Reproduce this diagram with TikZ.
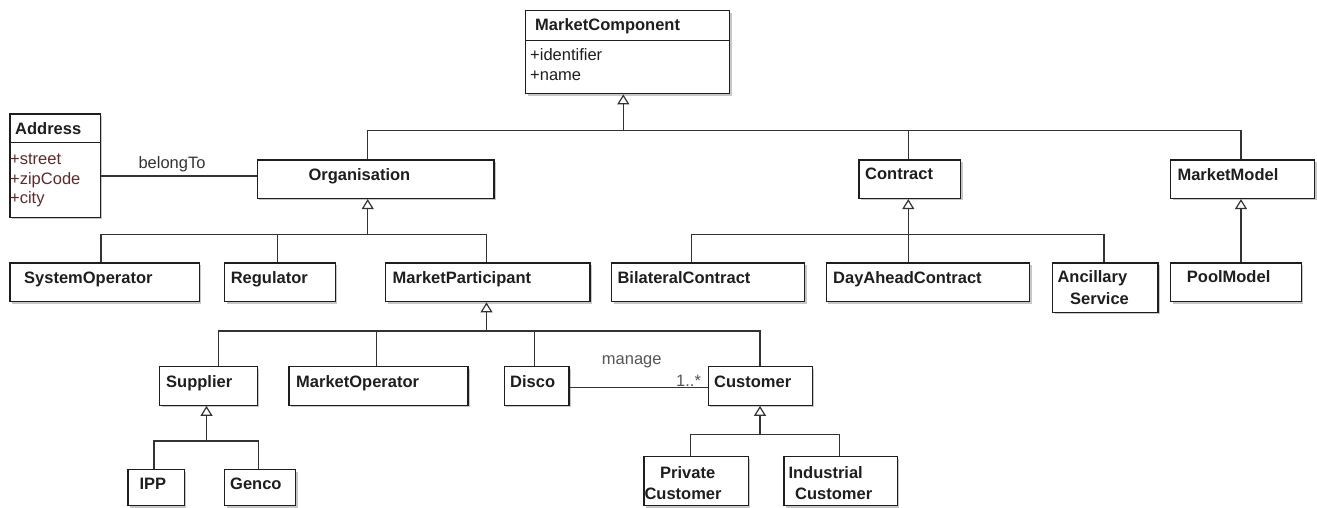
\documentclass[tikz,border=0pt]{standalone}
\usepackage{fontspec}
\setmainfont{Liberation Sans}
\usetikzlibrary{arrows.meta,shadows}
\definecolor{ink}{HTML}{1E1E1E}
\definecolor{wire}{HTML}{333333}
\definecolor{attr}{HTML}{5E2B2B}
\definecolor{note}{HTML}{555555}

% class box: name, left, top, right, bottom (pixel-like units, y grows downwards)
\newcommand{\umlclass}[5]{%
  \node[cls, minimum width={(#4)-(#2)}, minimum height={(#5)-(#3)}] (#1) at (#2,#3) {};}

\begin{document}
\begin{tikzpicture}[x=1pt,y=-1pt,
  cls/.style={draw=ink, line width=1.4pt, fill=white, inner sep=0pt, anchor=north west,
    drop shadow={shadow xshift=2pt, shadow yshift=-2pt, fill=black, opacity=0.22}},
  ttl/.style={anchor=base west, inner sep=0pt, font=\fontsize{16.5}{19}\selectfont\bfseries, text=ink},
  att/.style={anchor=base west, inner sep=0pt, font=\fontsize{16.5}{19}\selectfont},
  lbl/.style={anchor=base west, inner sep=0pt, font=\fontsize{16.5}{19}\selectfont},
  conn/.style={draw=wire, line width=1.2pt},
  gen/.style={conn, -{Triangle[open,length=10pt,width=12pt,line width=1.2pt]}}]

\useasboundingbox (0,0) rectangle (1317,508);

% ---------- class boxes ----------
\umlclass{mc}{525}{10}{729}{93}
\umlclass{addr}{9.3}{113.3}{99.5}{216.7}
\umlclass{org}{256.7}{159.3}{493.3}{197.7}
\umlclass{contract}{858.3}{159.3}{960}{197.7}
\umlclass{mmodel}{1170}{159.3}{1314}{197.7}
\umlclass{sysop}{9.3}{262.3}{198.7}{301}
\umlclass{reg}{224}{262.3}{334.5}{301}
\umlclass{mp}{385}{262.3}{589.4}{301}
\umlclass{bil}{611}{262.3}{804}{301}
\umlclass{dayahead}{825.6}{262.3}{1029}{301}
\umlclass{ancil}{1052}{262.3}{1157.3}{311.7}
\umlclass{pool}{1170}{262.3}{1300.7}{301}
\umlclass{supplier}{159}{366}{256.7}{404.5}
\umlclass{mop}{288.3}{366}{467.3}{404.5}
\umlclass{disco}{503.5}{366}{568.3}{404.5}
\umlclass{customer}{707.7}{366}{811.7}{404.5}
\umlclass{ipp}{127.3}{469}{183.5}{505}
\umlclass{genco}{224}{469}{295}{505}
\umlclass{private}{643.3}{456}{747.7}{505}
\umlclass{industrial}{783.3}{456}{896.7}{505}

% compartment separators
\draw[draw=ink, line width=1.4pt] (mc.west |- 0,40.7) -- (mc.east |- 0,40.7);
\draw[draw=ink, line width=1.4pt] (addr.west |- 0,142.7) -- (addr.east |- 0,142.7);

% ---------- texts ----------
\node[ttl] (mcT) at (535,31) {MarketComponent};
\node[att, text=ink] (mcA1) at (530,60.5) {+identifier};
\node[att, text=ink] (mcA2) at (530,81) {+name};

\node[ttl] (addrT) at (15,134.3) {Address};
\node[att, text=attr] (addrA1) at (10,164.3) {+street};
\node[att, text=attr] (addrA2) at (10,184) {+zipCode};
\node[att, text=attr] (addrA3) at (10,203.5) {+city};

\node[ttl] (orgT) at (308.3,180) {Organisation};
\node[ttl] (contractT) at (865,179.5) {Contract};
\node[ttl] (mmodelT) at (1177.3,180) {MarketModel};

\node[ttl] (sysopT) at (24,283.3) {SystemOperator};
\node[ttl] (regT) at (230.6,283.3) {Regulator};
\node[ttl] (mpT) at (392.5,283) {MarketParticipant};
\node[ttl] (bilT) at (617.3,283.3) {BilateralContract};
\node[ttl] (dayaheadT) at (833,283.3) {DayAheadContract};
\node[ttl] (ancilT1) at (1057.3,282.7) {Ancillary};
\node[ttl] (ancilT2) at (1070,304.3) {Service};
\node[ttl] (poolT) at (1186.7,282.7) {PoolModel};

\node[ttl] (supplierT) at (166,387) {Supplier};
\node[ttl] (mopT) at (296,387) {MarketOperator};
\node[ttl] (discoT) at (510,387) {Disco};
\node[ttl] (customerT) at (714,387) {Customer};

\node[ttl] (ippT) at (139.3,489.5) {IPP};
\node[ttl] (gencoT) at (230,489.5) {Genco};
\node[ttl] (privateT1) at (660,478.7) {Private};
\node[ttl] (privateT2) at (644.3,499.3) {Customer};
\node[ttl] (industrialT1) at (788.3,478.7) {Industrial};
\node[ttl] (industrialT2) at (795,499.3) {Customer};

% ---------- generalisations ----------
% MarketComponent
\coordinate (jMC) at (623.3,130.7);
\draw[gen] (jMC) -- (jMC |- mc.south);
\draw[conn] (jMC) -| (367.7,0 |- org.north);
\draw[conn] (jMC) -| (908.3,0 |- contract.north);
\draw[conn] (jMC) -| (1241,0 |- mmodel.north);

% Organisation
\coordinate (jOrg) at (367.7,234.3);
\draw[gen] (jOrg) -- (jOrg |- org.south);
\draw[conn] (jOrg) -| (101,0 |- sysop.north);
\draw[conn] (jOrg) -| (277.8,0 |- reg.north);
\draw[conn] (jOrg) -| (486.5,0 |- mp.north);

% Contract
\coordinate (jCon) at (908.3,234.3);
\draw[gen] (jCon) -- (jCon |- contract.south);
\draw[conn] (jCon) -| (691.3,0 |- bil.north);
\draw[conn] (jCon) -- (jCon |- dayahead.north);
\draw[conn] (jCon) -| (1104,0 |- ancil.north);

% MarketModel
\draw[gen] (1241,0 |- pool.north) -- (1241,0 |- mmodel.south);

% MarketParticipant
\coordinate (jMP) at (486.5,331);
\draw[gen] (jMP) -- (jMP |- mp.south);
\draw[conn] (jMP) -| (218.3,0 |- supplier.north);
\draw[conn] (jMP) -| (376.7,0 |- mop.north);
\draw[conn] (jMP) -| (534.8,0 |- disco.north);
\draw[conn] (jMP) -| (760,0 |- customer.north);

% Supplier
\coordinate (jSup) at (206.5,441);
\draw[gen] (jSup) -- (jSup |- supplier.south);
\draw[conn] (jSup) -| (154,0 |- ipp.north);
\draw[conn] (jSup) -| (258.5,0 |- genco.north);

% Customer
\coordinate (jCus) at (760,434.3);
\draw[gen] (jCus) -- (jCus |- customer.south);
\draw[conn] (jCus) -| (690.7,0 |- private.north);
\draw[conn] (jCus) -| (839.3,0 |- industrial.north);

% ---------- associations ----------
\draw[conn] (addr.east |- 0,176) -- (org.west |- 0,176);
\node[lbl, text=wire] (belongT) at (138.3,168.3) {belongTo};

\draw[conn] (disco.east |- 0,387.7) -- (customer.west |- 0,387.7);
\node[lbl, text=note] (manageT) at (601.7,364.3) {manage};
\node[lbl, text=note] (multT) at (676,386) {1..*};

\end{tikzpicture}
\end{document}
